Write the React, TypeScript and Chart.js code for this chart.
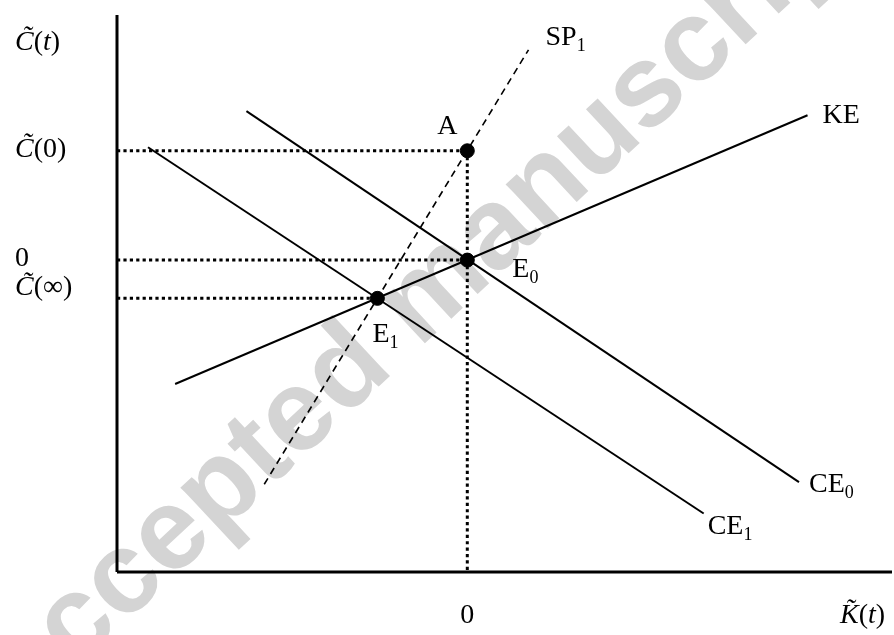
import React, { useEffect, useRef } from "react";
import { Chart, registerables } from "chart.js";

Chart.register(...registerables);

// Axis ranges (model units): 0 on each axis is the steady state E0
const X_RANGE = [-4.52, 5.48];
const Y_RANGE = [-4.48, 3.52];

// Schedules (two end points each)
const KE_X = [-3.77, 4.39];
const KE_Y = [-1.78, 2.08];
const CE0_X = [-2.85, 4.28];
const CE0_Y = [2.14, -3.19];
const CE1_X = [-4.12, 3.05];
const CE1_Y = [1.62, -3.64];
const SP1_X = [-2.62, 0.79];
const SP1_Y = [-3.22, 3.02];

// Marked points
const POINT_NAMES = ["A", "E0", "E1"];
const POINT_X = [0, 0, -1.16];
const POINT_Y = [1.57, 0, -0.55];

// Tick labels
const Y_TICK_VALUES = [1.57, 0, -0.55];
const X_TICK_VALUES = [0];

type Seg = { t: string; italic?: boolean; sub?: boolean };

const FONT = "'Liberation Serif', 'Times New Roman', serif";
const SIZE = 28;
const SUB = 18;

const Y_TICK_LABELS: Seg[][] = [
  [{ t: "C\u0303", italic: true }, { t: "(0)" }],
  [{ t: "0" }],
  [{ t: "C\u0303", italic: true }, { t: "(\u221E)" }],
];
const Y_TICK_DY = [6, 6, -3];
const X_TICK_LABELS: Seg[][] = [[{ t: "0" }]];

function segFont(s: Seg) {
  return `${s.italic ? "italic " : ""}${s.sub ? SUB : SIZE}px ${FONT}`;
}

function drawRich(ctx: CanvasRenderingContext2D, segs: Seg[], x: number, y: number, align: "left" | "center" = "left") {
  ctx.save();
  ctx.textBaseline = "alphabetic";
  ctx.textAlign = "left";
  let total = 0;
  for (const s of segs) {
    ctx.font = segFont(s);
    total += ctx.measureText(s.t).width;
  }
  let cx = align === "center" ? x - total / 2 : x;
  for (const s of segs) {
    ctx.font = segFont(s);
    ctx.fillStyle = "#000";
    ctx.fillText(s.t, cx, y + (s.sub ? 6 : 0));
    cx += ctx.measureText(s.t).width;
  }
  ctx.restore();
}

const labelPlugin = {
  id: "labels",
  beforeDatasetsDraw(chart: any) {
    const ctx = chart.ctx as CanvasRenderingContext2D;
    ctx.save();
    ctx.fillStyle = "#fff";
    ctx.fillRect(0, 0, chart.width, chart.height);
    // watermark
    ctx.translate(452, 318);
    ctx.rotate((-43 * Math.PI) / 180);
    ctx.font = "bold 116px 'Liberation Sans', Arial, sans-serif";
    ctx.fillStyle = "rgb(212,212,212)";
    ctx.textAlign = "center";
    ctx.textBaseline = "alphabetic";
    ctx.fillText("accepted manuscript", 0, 0);
    ctx.restore();
  },
  afterDatasetsDraw(chart: any) {
    const ctx = chart.ctx as CanvasRenderingContext2D;
    const xs = chart.scales.x;
    const ys = chart.scales.y;
    const px = (v: number) => xs.getPixelForValue(v);
    const py = (v: number) => ys.getPixelForValue(v);
    const axisX = px(X_RANGE[0]);
    const axisY = py(Y_RANGE[0]);

    // axis titles
    drawRich(ctx, [{ t: "C\u0303", italic: true }, { t: "(" }, { t: "t", italic: true }, { t: ")" }], axisX - 102, py(Y_RANGE[1]) + 35);
    drawRich(ctx, [{ t: "K\u0303", italic: true }, { t: "(" }, { t: "t", italic: true }, { t: ")" }], px(X_RANGE[1]) - 52, axisY + 51);

    // tick labels
    Y_TICK_VALUES.forEach((v, i) => drawRich(ctx, Y_TICK_LABELS[i], axisX - 102, py(v) + Y_TICK_DY[i]));
    X_TICK_VALUES.forEach((v, i) => drawRich(ctx, X_TICK_LABELS[i], px(v), axisY + 51, "center"));

    // point labels
    drawRich(ctx, [{ t: "A" }], px(POINT_X[0]) - 20, py(POINT_Y[0]) - 17, "center");
    drawRich(ctx, [{ t: "E" }, { t: "0", sub: true }], px(POINT_X[1]) + 45, py(POINT_Y[1]) + 17);
    drawRich(ctx, [{ t: "E" }, { t: "1", sub: true }], px(POINT_X[2]) - 5, py(POINT_Y[2]) + 44);

    // curve labels
    drawRich(ctx, [{ t: "SP" }, { t: "1", sub: true }], px(SP1_X[1]) + 17, py(SP1_Y[1]) - 5);
    drawRich(ctx, [{ t: "KE" }], px(KE_X[1]) + 15, py(KE_Y[1]) + 8);
    drawRich(ctx, [{ t: "CE" }, { t: "0", sub: true }], px(CE0_X[1]) + 10, py(CE0_Y[1]) + 10);
    drawRich(ctx, [{ t: "CE" }, { t: "1", sub: true }], px(CE1_X[1]) + 4, py(CE1_Y[1]) + 20);
  },
};

function seg(xs: number[], ys: number[]) {
  return xs.map((x, i) => ({ x, y: ys[i] }));
}

export default function App() {
  const ref = useRef<HTMLCanvasElement | null>(null);
  useEffect(() => {
    document.body.style.margin = "0";
    const solid = { borderColor: "#000", borderWidth: 2, pointRadius: 0, showLine: true, clip: false as any, fill: false };
    const dotted = { borderColor: "#000", borderWidth: 3, borderDash: [3.2, 3.2], borderCapStyle: "butt" as const, pointRadius: 0, showLine: true, clip: false as any, fill: false };
    const guides: any[] = [];
    POINT_NAMES.forEach((n, i) => {
      guides.push({ ...dotted, label: `h-${n}`, data: seg([X_RANGE[0], POINT_X[i]], [POINT_Y[i], POINT_Y[i]]) });
    });
    guides.push({ ...dotted, label: "v-A", data: seg([POINT_X[0], POINT_X[0]], [POINT_Y[0], Y_RANGE[0]]) });

    const chart = new Chart(ref.current!, {
      type: "scatter",
      data: {
        datasets: [
          ...guides,
          { ...solid, borderWidth: 3, label: "y-axis", data: seg([X_RANGE[0], X_RANGE[0]], [Y_RANGE[0], Y_RANGE[1]]) },
          { ...solid, borderWidth: 3, label: "x-axis", data: seg([X_RANGE[0], X_RANGE[1]], [Y_RANGE[0], Y_RANGE[0]]) },
          { ...solid, label: "KE", data: seg(KE_X, KE_Y) },
          { ...solid, label: "CE0", data: seg(CE0_X, CE0_Y) },
          { ...solid, label: "CE1", data: seg(CE1_X, CE1_Y) },
          { ...solid, borderWidth: 1.6, borderDash: [7, 5], label: "SP1", data: seg(SP1_X, SP1_Y) },
          {
            label: "points",
            data: seg(POINT_X, POINT_Y),
            showLine: false,
            pointRadius: 7,
            pointBackgroundColor: "#000",
            pointBorderColor: "#000",
            clip: false as any,
          },
        ],
      },
      options: {
        animation: false,
        responsive: false,
        devicePixelRatio: 1,
        layout: { autoPadding: false, padding: { left: 117, right: 2, top: 15, bottom: 63 } },
        plugins: { legend: { display: false }, tooltip: { enabled: false } },
        events: [],
        scales: {
          x: { type: "linear", min: X_RANGE[0], max: X_RANGE[1], display: false },
          y: { type: "linear", min: Y_RANGE[0], max: Y_RANGE[1], display: false },
        },
      },
      plugins: [labelPlugin],
    });
    return () => chart.destroy();
  }, []);
  return (
    <div style={{ position: "absolute", left: 0, top: 0, width: 894, height: 635, background: "#fff" }}>
      <canvas ref={ref} width={894} height={635} />
    </div>
  );
}
